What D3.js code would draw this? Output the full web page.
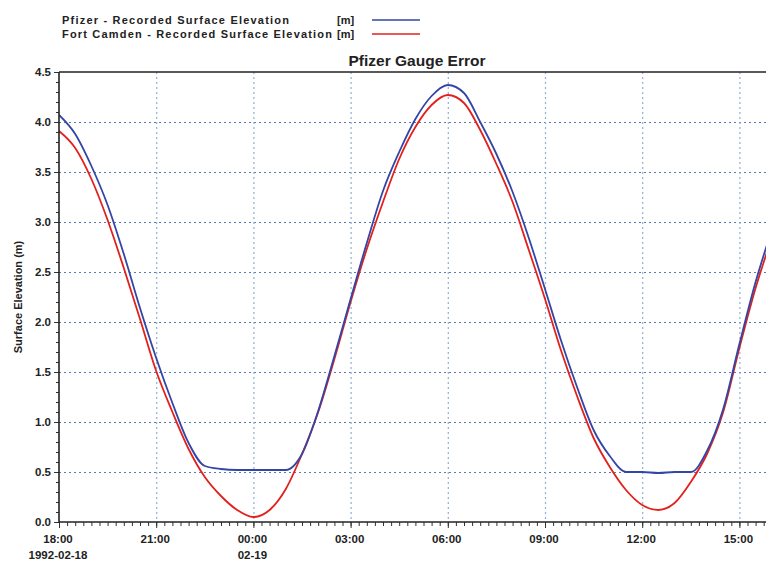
<!DOCTYPE html>
<html>
<head>
<meta charset="utf-8">
<script src="https://cdn.jsdelivr.net/npm/d3@7"></script>
<style>
  html, body { margin: 0; padding: 0; background: #ffffff; }
  svg { display: block; font-family: "Liberation Sans", Arial, sans-serif; }
</style>
</head>
<body>
<svg id="chart" width="766" height="563"></svg>
<script>
// ---- data ----
const times = [
  "1992-02-18 18:00","1992-02-18 18:30","1992-02-18 19:00","1992-02-18 19:30",
  "1992-02-18 20:00","1992-02-18 20:30","1992-02-18 21:00","1992-02-18 21:30",
  "1992-02-18 22:00","1992-02-18 22:30","1992-02-18 23:00","1992-02-18 23:30",
  "1992-02-19 00:00","1992-02-19 00:30","1992-02-19 01:00","1992-02-19 01:30",
  "1992-02-19 02:00","1992-02-19 02:30","1992-02-19 03:00","1992-02-19 03:30",
  "1992-02-19 04:00","1992-02-19 04:30","1992-02-19 05:00","1992-02-19 05:30",
  "1992-02-19 06:00","1992-02-19 06:30","1992-02-19 07:00","1992-02-19 07:30",
  "1992-02-19 08:00","1992-02-19 08:30","1992-02-19 09:00","1992-02-19 09:30",
  "1992-02-19 10:00","1992-02-19 10:30","1992-02-19 11:00","1992-02-19 11:30",
  "1992-02-19 12:00","1992-02-19 12:30","1992-02-19 13:00","1992-02-19 13:30",
  "1992-02-19 14:00","1992-02-19 14:30","1992-02-19 15:00","1992-02-19 15:30",
  "1992-02-19 16:00"
];
const pfizer = [
  4.07,3.88,3.56,3.17,2.68,2.14,1.64,1.19,0.79,0.56,0.53,0.52,0.52,0.52,0.52,0.68,
  1.11,1.66,2.23,2.79,3.31,3.70,4.03,4.26,4.37,4.29,4.00,3.68,3.30,2.84,2.33,1.81,
  1.34,0.92,0.66,0.50,0.50,0.49,0.50,0.50,0.71,1.13,1.78,2.40,2.92
];
const fortCamden = [
  3.91,3.74,3.43,3.02,2.54,2.03,1.51,1.10,0.73,0.45,0.26,0.12,0.05,0.12,0.33,0.68,
  1.10,1.63,2.20,2.73,3.20,3.63,3.95,4.17,4.27,4.19,3.92,3.58,3.20,2.72,2.23,1.71,
  1.25,0.84,0.55,0.32,0.17,0.12,0.19,0.40,0.68,1.10,1.74,2.34,2.84
];
const seriesNames = ["Pfizer - Recorded Surface Elevation", "Fort Camden - Recorded Surface Elevation"];
const seriesUnits = ["[m]", "[m]"];
const seriesColors = ["#3346a6", "#e3211c"];
const yTicks = [0.0,0.5,1.0,1.5,2.0,2.5,3.0,3.5,4.0,4.5];
const xTickTimes = ["1992-02-18 18:00","1992-02-18 21:00","1992-02-19 00:00","1992-02-19 03:00",
                    "1992-02-19 06:00","1992-02-19 09:00","1992-02-19 12:00","1992-02-19 15:00"];
const xTickLabels = [["18:00","1992-02-18"],["21:00"],["00:00","02-19"],["03:00"],
                     ["06:00"],["09:00"],["12:00"],["15:00"]];
const title = "Pfizer Gauge Error";
const yLabel = "Surface Elevation (m)";

// ---- layout ----
const parse = d3.timeParse("%Y-%m-%d %H:%M");
const svg = d3.select("#chart");
const L = 59, T = 72, B = 522;
const tStart = parse(times[0]), tEnd = parse(times[times.length - 1]);
const R = L + 22 * 32.4;

const x = d3.scaleTime().domain([tStart, tEnd]).range([L, R]);
const y = d3.scaleLinear().domain([0, 4.5]).range([B, T]);

svg.append("defs").append("clipPath").attr("id", "clip")
  .append("rect").attr("x", L).attr("y", T - 2).attr("width", R - L).attr("height", B - T + 4);

// grid
const grid = svg.append("g");
grid.selectAll("line.h").data(yTicks.filter(v => v > 0 && v < 4.5)).join("line")
  .attr("x1", L).attr("x2", R).attr("y1", d => y(d) + 0.5).attr("y2", d => y(d) + 0.5)
  .attr("stroke", "#5a78b4").attr("stroke-width", 1.2).attr("stroke-dasharray", "2,3");
grid.selectAll("line.v").data(xTickTimes.slice(1).map(parse)).join("line")
  .attr("x1", d => x(d) + 0.5).attr("x2", d => x(d) + 0.5).attr("y1", T).attr("y2", B)
  .attr("stroke", "#8fb0d6").attr("stroke-width", 1.2).attr("stroke-dasharray", "2,3");

// lines
const line = d3.line().x(d => x(d[0])).y(d => y(d[1])).curve(d3.curveMonotoneX);
const tparsed = times.map(parse);
const seriesData = [pfizer, fortCamden];
const lg = svg.append("g").attr("clip-path", "url(#clip)");
[1, 0].forEach(i => {
  lg.append("path")
    .datum(tparsed.map((t, k) => [t, seriesData[i][k]]))
    .attr("d", line).attr("fill", "none")
    .attr("stroke", seriesColors[i]).attr("stroke-width", 1.8)
    .attr("stroke-linejoin", "round");
});

// axes
const yAxis = d3.axisLeft(y).tickValues(yTicks).tickFormat(d3.format(".1f")).tickSize(5).tickPadding(3);
const yMinor = d3.axisLeft(y).tickValues(d3.range(0, 46).map(i => i / 10)).tickFormat("").tickSize(3);
const gy2 = svg.append("g").attr("transform", `translate(${L},0)`).call(yMinor);
const gy = svg.append("g").attr("transform", `translate(${L},0)`).call(yAxis);
[gy, gy2].forEach(g => {
  g.select(".domain").remove();
  g.selectAll("line").attr("stroke", "#333").attr("stroke-width", 1);
});
gy.selectAll("text").attr("font-size", 11.5).attr("font-weight", "bold").attr("fill", "#222")
  .attr("font-family", "Liberation Sans, Arial, sans-serif");

const xMinor = d3.axisBottom(x).ticks(d3.timeMinute.every(15)).tickFormat("").tickSize(4);
const gx = svg.append("g").attr("transform", `translate(0,${B})`).call(xMinor);
gx.select(".domain").remove();
gx.selectAll("line").attr("stroke", "#333").attr("stroke-width", 1);
const xMajor = d3.axisBottom(x).tickValues(xTickTimes.map(parse)).tickFormat("").tickSize(6);
const gx2 = svg.append("g").attr("transform", `translate(0,${B})`).call(xMajor);
gx2.select(".domain").remove();
gx2.selectAll("line").attr("stroke", "#333").attr("stroke-width", 1);

// x tick labels (two lines)
const xl = svg.append("g");
xTickTimes.forEach((s, i) => {
  const t = xl.append("text").attr("x", x(parse(s)) - 1).attr("y", B + 21)
    .attr("text-anchor", "middle").attr("font-size", 11.5).attr("font-weight", "bold").attr("fill", "#222");
  xTickLabels[i].forEach((lab, j) => {
    t.append("tspan").attr("x", x(parse(s)) - 1).attr("dy", j === 0 ? 0 : 15.5).text(lab);
  });
});

// frame: left, bottom, top
svg.append("line").attr("x1", L).attr("x2", L).attr("y1", T).attr("y2", B + 0.5)
  .attr("stroke", "#222").attr("stroke-width", 1.6);
svg.append("line").attr("x1", L).attr("x2", R).attr("y1", B).attr("y2", B)
  .attr("stroke", "#222").attr("stroke-width", 1.6);
svg.append("line").attr("x1", L).attr("x2", R).attr("y1", T).attr("y2", T)
  .attr("stroke", "#222").attr("stroke-width", 1.4);

// title
svg.append("text").attr("x", 417).attr("y", 66).attr("text-anchor", "middle")
  .attr("font-size", 15.5).attr("font-weight", "bold").attr("fill", "#222").text(title);

// y label
svg.append("text").attr("transform", `translate(22,297) rotate(-90)`)
  .attr("text-anchor", "middle").attr("font-size", 11).attr("font-weight", "bold").attr("fill", "#222")
  .text(yLabel);

// legend
const leg = svg.append("g");
seriesNames.forEach((n, i) => {
  const yy = 24 + i * 14;
  leg.append("text").attr("x", 62).attr("y", yy).attr("font-size", 11).attr("font-weight", "bold")
    .attr("fill", "#222").attr("textLength", i === 0 ? 227 : 270).text(n);
  leg.append("text").attr("x", 337).attr("y", yy).attr("font-size", 11).attr("font-weight", "bold")
    .attr("fill", "#222").text(seriesUnits[i]);
  leg.append("line").attr("x1", 372).attr("x2", 420).attr("y1", yy - 4).attr("y2", yy - 4)
    .attr("stroke", seriesColors[i]).attr("stroke-width", 1.5);
});
</script>
</body>
</html>
